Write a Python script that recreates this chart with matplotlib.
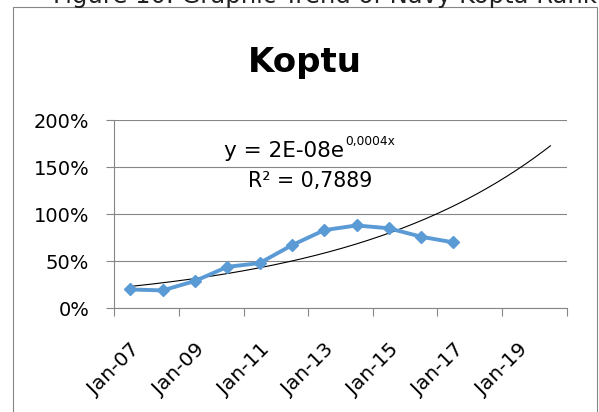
import numpy as np
import matplotlib
matplotlib.use('Agg')
import matplotlib.pyplot as plt
import matplotlib.dates as mdates
from matplotlib.patches import Rectangle
from matplotlib.transforms import ScaledTranslation, IdentityTransform
import datetime as dt

# ---- data ----
dates = ['2007-07-01', '2008-07-01', '2009-07-01', '2010-07-01', '2011-07-01', '2012-07-01',
         '2013-07-01', '2014-07-01', '2015-07-01', '2016-07-01', '2017-07-01']
values = [20, 19, 29, 44, 48, 67, 83, 88, 85, 76, 70]   # percent
tick_years = [2007, 2009, 2011, 2013, 2015, 2017, 2019, 2021]
tick_labels = ['Jan-07', 'Jan-09', 'Jan-11', 'Jan-13', 'Jan-15', 'Jan-17', 'Jan-19', '']
y_ticks = [0, 50, 100, 150, 200]
title = 'Koptu'
caption = 'Figure 10. Graphic Trend of Navy Kopta Ranking'
eq_main = 'y = 2E-08e'
eq_sup = '0,0004x'
r2_text = 'R\u00b2 = 0,7889'

W, H = 599, 412
grey = '#868686'
blue = '#5B9BD5'

fig = plt.figure(figsize=(W/100, H/100), dpi=100)
ax = fig.add_axes([114.3/W, 1-308.3/H, (566.7-114.3)/W, (308.3-120)/H])

x = mdates.date2num([dt.datetime.strptime(d, '%Y-%m-%d') for d in dates])
v = np.array(values, dtype=float)

# exponential trendline, forecast 3 years forward
k, b = np.polyfit(x, np.log(v), 1)
xs = np.linspace(x[0], x[-1] + 3*365.25, 300)
ax.plot(xs, np.exp(b + k*xs), color='black', lw=0.8, zorder=3)

ax.plot(x, v, color=blue, lw=2.8, marker='D', ms=6.5, mec=blue, mfc=blue, zorder=4)

ax.set_xlim(mdates.date2num(dt.datetime(2007, 1, 1)), mdates.date2num(dt.datetime(2021, 1, 1)))
ax.set_ylim(0, 200)
ax.set_yticks(y_ticks)
ax.set_yticklabels([f'{t}%' for t in y_ticks], fontsize=14)
ax.set_xticks([mdates.date2num(dt.datetime(y, 1, 1)) for y in tick_years])
ax.set_xticklabels(tick_labels, fontsize=14.5, rotation=45, ha='center', va='top')
for lbl in ax.get_xticklabels():
    lbl.set_transform(lbl.get_transform() + ScaledTranslation(-8/100, 0, fig.dpi_scale_trans))

ax.grid(axis='y', color=grey, lw=0.8)
ax.set_axisbelow(True)
for s in ['top', 'right']:
    ax.spines[s].set_visible(False)
for s in ['left', 'bottom']:
    ax.spines[s].set_color(grey)
    ax.spines[s].set_linewidth(0.8)
ax.tick_params(axis='both', direction='out', length=6, width=0.8, color=grey)
ax.tick_params(axis='y', pad=12)
ax.tick_params(axis='x', pad=17)

# chart frame and texts
fig.add_artist(Rectangle((12.7/W, -0.1), (597-12.7)/W, (H-7.3)/H + 0.1, transform=fig.transFigure,
                         fill=False, ec=grey, lw=0.8))
fig.text(305/W, 1-71.7/H, title, ha='center', va='baseline', fontsize=24.5, weight='bold')
fig.text(53/W, 1-3.5/H, caption, ha='left', va='baseline', fontsize=17.5, color='#222222')

t_eq = fig.text(224/W, 1-157/H, eq_main, ha='left', va='baseline', fontsize=15.5)
fig.text(248/W, 1-187.3/H, r2_text, ha='left', va='baseline', fontsize=14.8)
fig.canvas.draw()
bb = t_eq.get_window_extent()
fig.text(bb.x1 + 1, H-145, eq_sup, ha='left', va='baseline', fontsize=8.8,
         transform=IdentityTransform())

fig.savefig('out.png', dpi=100)
